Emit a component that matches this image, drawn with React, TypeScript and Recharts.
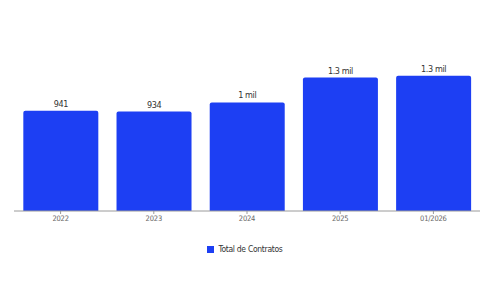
import React from "react";
import { BarChart, Bar, XAxis, YAxis, Legend, LabelList } from "recharts";

const categories = ["2022", "2023", "2024", "2025", "01/2026"];
const contratos = [941, 934, 1020, 1254, 1270];
const seriesName = "Total de Contratos";

const data = categories.map((c, i) => ({ name: c, value: contratos[i] }));

const fmt = (v: any) => {
  const n = Number(v);
  if (n >= 1000) {
    const s = (n / 1000).toFixed(1).replace(/\.0$/, "");
    return `${s} mil`;
  }
  return String(n);
};

const FONT = "'DejaVu Sans Condensed', 'Roboto', sans-serif";
const BLUE = "#1d3ff3";

export default function App() {
  return (
    <div style={{ position: "absolute", left: 0, top: 0, width: 500, height: 300, background: "#fff" }}>
      <BarChart
        width={500}
        height={300}
        data={data}
        margin={{ top: 62, right: 20, bottom: 49, left: 14 }}
        barCategoryGap="10%"
      >
        <XAxis
          dataKey="name"
          axisLine={{ stroke: "#9a9a9a" }}
          tickLine={{ stroke: "#9a9a9a" }}
          tickSize={3}
          tick={{ fontSize: 7.5, fill: "#666", fontFamily: FONT, letterSpacing: -0.2 }}
          height={30}
        />
        <YAxis hide domain={[0, 1400]} />
        <Legend
          verticalAlign="bottom"
          align="center"
          iconType="square"
          iconSize={7}
          wrapperStyle={{ position: "absolute", top: 244, left: 0, width: 500, fontFamily: FONT, fontSize: 8.5, color: "#333", letterSpacing: -0.3 }}
          formatter={(v: any) => <span style={{ color: "#333" }}>{v}</span>}
        />
        <Bar dataKey="value" name={seriesName} fill={BLUE} radius={[2, 2, 0, 0]} isAnimationActive={false}>
          <LabelList dataKey="value" position="top" formatter={fmt} style={{ fontSize: 9, fill: "#333", fontFamily: FONT, letterSpacing: -0.4 }} offset={4} />
        </Bar>
      </BarChart>
    </div>
  );
}
